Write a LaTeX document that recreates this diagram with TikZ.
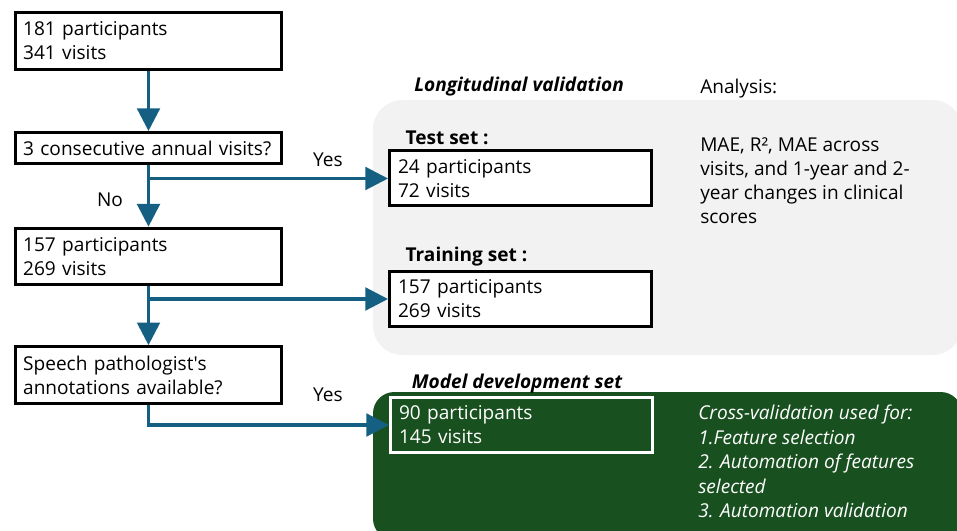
\documentclass[tikz,border=0pt]{standalone}
\usepackage{fontspec}
\setmainfont{Open Sans}
\usetikzlibrary{arrows.meta,positioning}
\definecolor{flowblue}{RGB}{21,96,130}
\definecolor{devgreen}{RGB}{25,80,31}
\definecolor{panelgray}{RGB}{242,242,242}
\newcommand{\flowfont}{\fontsize{14.3}{18}\selectfont}
\tikzset{flow box/.style={rectangle,draw=black,fill=white,line width=2.25pt,text width=188pt,inner xsep=5.6pt,align=left,minimum height=42.5pt,font=\flowfont},
         set box/.style={rectangle,draw=black,fill=white,line width=2.25pt,text width=183.7pt,inner xsep=6.4pt,align=left,minimum height=41.25pt,font=\flowfont},
         flow/.style={draw=flowblue,line width=2.4pt,-{Triangle[length=17pt,width=17pt]}},
         edge label/.style={rectangle,draw=none,fill=none,inner sep=0pt,font=\flowfont},
         set title/.style={edge label,font=\flowfont\bfseries},
         panel title/.style={edge label,font=\flowfont\bfseries\itshape}
}

\begin{document}
\begin{tikzpicture}[x=0.75pt,y=-0.75pt]
\useasboundingbox (0,0) rectangle (957,531);
% background panels
\fill[panelgray,rounded corners=22pt] (373,100) rectangle (962,355);
\fill[devgreen,rounded corners=16pt] (373,392) rectangle (962,540);

% left column
\node[flow box] (start) at (148.5,41) {181 participants\\341 visits};
\node[flow box,minimum height=23.25pt] (annual) at (148.5,148) {3 consecutive annual visits?};
\node[flow box] (rest) at (148.5,256.5) {157 participants\\269 visits};
\node[flow box] (speech) at (148.5,375) {Speech pathologist\textquotesingle s\\annotations available?};

% right column
\node[set box] (test) at (520.5,178.5) {24 participants\\72 visits};
\node[set box] (train) at (520.5,299) {157 participants\\269 visits};
\node[set box,draw=white,fill=devgreen,text=white] (dev) at (521.5,425) {90 participants\\145 visits};

\node[set title,above right=3pt and 13pt of test.north west] (testtitle) {Test set :};
\node[set title,above right=3pt and 13pt of train.north west] (traintitle) {Training set :};
\node[panel title,above right=2pt and 17pt of dev.north west] (devtitle) {Model development set};
\node[panel title,anchor=west] (longtitle) at (414,87) {Longitudinal validation};
\node[edge label,anchor=west] (analysis) at (700,89) {Analysis:};
\node[edge label,anchor=north west,align=left] (metrics) at (700,137)
    {MAE, R², MAE across\\visits, and 1-year and 2-\\year changes in clinical\\scores};
\node[edge label,anchor=north west,align=left,text=white,font=\fontsize{14.3}{18.4}\selectfont\itshape] (cv) at (698,405)
    {Cross-validation used for:\\1.Feature selection\\2. Automation of features\\selected\\3. Automation validation};

% connectors
\coordinate (split1) at (annual.south |- test.west);
\coordinate (split2) at (rest.south |- train.west);
\draw[flow] (start) -- (annual);
\draw[flow] (annual) -- (rest);
\draw[flow] (split1) -- (test.west);
\draw[flow] (rest) -- (speech);
\draw[flow] (split2) -- (train.west);
\draw[flow] (speech.south) |- (dev.west);

\node[edge label] (yes1) at (328,160) {Yes};
\node[edge label] (no1) at (110,200) {No};
\node[edge label] (yes2) at (328,395) {Yes};
\end{tikzpicture}
\end{document}
